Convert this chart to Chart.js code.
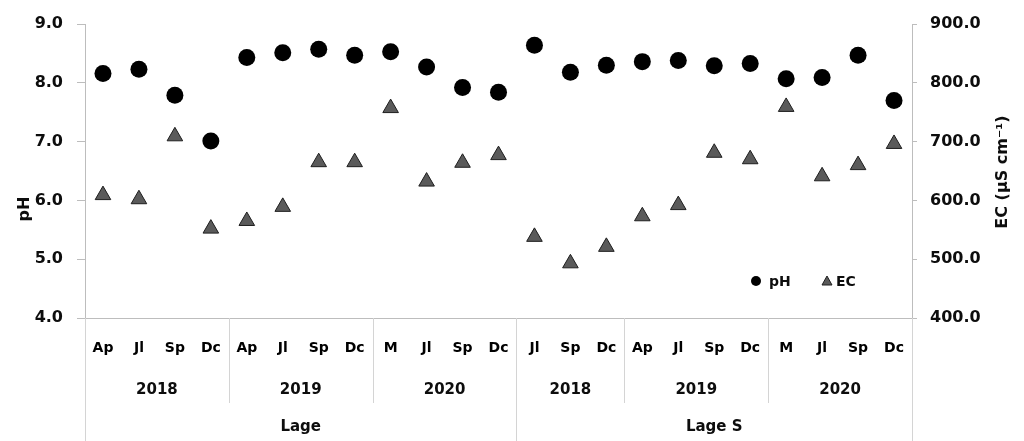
<!DOCTYPE html>
<html>
<head>
<meta charset="utf-8">
<script src="https://cdn.jsdelivr.net/npm/chart.js@4.4.1/dist/chart.umd.min.js"></script>
<style>
  html, body { margin: 0; padding: 0; background: #fff; }
  #wrap { width: 1024px; height: 441px; }
</style>
</head>
<body>
<div id="wrap"><canvas id="c" width="1024" height="441"></canvas></div>
<script>
// Sampling months (23 campaigns across two sites)
const months = ['Ap','Jl','Sp','Dc','Ap','Jl','Sp','Dc','M','Jl','Sp','Dc',
                'Jl','Sp','Dc','Ap','Jl','Sp','Dc','M','Jl','Sp','Dc'];
// Year groups under the month labels, with how many months each spans
const yearLabels = ['2018','2019','2020','2018','2019','2020'];
const yearSpans  = [4, 4, 4, 3, 4, 4];
// Site groups, with how many months each spans
const siteLabels = ['Lage','Lage S'];
const siteSpans  = [12, 11];

// pH (left axis)
const phValues = [8.16, 8.23, 7.79, 7.01, 8.43, 8.51, 8.57, 8.47, 8.53, 8.27, 7.92, 7.84,
                  8.64, 8.18, 8.30, 8.36, 8.38, 8.29, 8.33, 8.07, 8.09, 8.47, 7.70];
// Electrical conductivity, µS cm-1 (right axis)
const ecValues = [609, 602, 709, 552, 565, 589, 665, 665, 757, 632, 664, 677,
                  538, 493, 521, 573, 592, 681, 670, 759, 641, 660, 696];

// Axis ranges
const phRange = [4, 9];
const ecRange = [400, 900];

const FONT = '"DejaVu Sans", sans-serif';
const TXT = '#0d0d0d';
const AXIS = '#bdbdbd';
const SEP = '#d4d4d4';

const groupsPlugin = {
  id: 'groups',
  afterDraw(chart) {
    const ctx = chart.ctx;
    const x = chart.scales.x;
    const area = chart.chartArea;
    const H = chart.height;
    const edge = i => {
      if (i <= 0) return area.left;
      if (i >= months.length) return area.right;
      return (x.getPixelForValue(i - 1) + x.getPixelForValue(i)) / 2;
    };
    ctx.save();
    ctx.strokeStyle = SEP;
    ctx.lineWidth = 1;
    // year separators (short) and labels
    let start = 0;
    ctx.font = 'bold 15px ' + FONT;
    ctx.fillStyle = TXT;
    ctx.textAlign = 'center';
    ctx.textBaseline = 'middle';
    yearSpans.forEach((n, k) => {
      const a = edge(start), b = edge(start + n);
      ctx.beginPath();
      ctx.moveTo(Math.round(a) + 0.5, area.bottom);
      ctx.lineTo(Math.round(a) + 0.5, 403);
      ctx.stroke();
      ctx.fillText(yearLabels[k], (a + b) / 2, 390);
      start += n;
    });
    // site separators (full height) and labels
    start = 0;
    siteSpans.forEach((n, k) => {
      const a = edge(start), b = edge(start + n);
      [a, b].forEach(px => {
        ctx.beginPath();
        ctx.moveTo(Math.round(px) + 0.5, area.bottom);
        ctx.lineTo(Math.round(px) + 0.5, H);
        ctx.stroke();
      });
      ctx.fillText(siteLabels[k], (a + b) / 2, 427);
      start += n;
    });

    // axis titles
    ctx.font = 'bold 16px ' + FONT;
    ctx.save();
    ctx.translate(25, 209);
    ctx.rotate(-Math.PI / 2);
    ctx.fillText('pH', 0, 0);
    ctx.restore();
    ctx.save();
    ctx.translate(1003, 172);
    ctx.rotate(-Math.PI / 2);
    ctx.fillText('EC (µS cm\u207B\u00B9)', 0, 0);
    ctx.restore();

    // legend
    const ds = chart.data.datasets;
    ctx.font = 'bold 14px ' + FONT;
    ctx.textAlign = 'left';
    ctx.fillStyle = ds[0].backgroundColor;
    ctx.beginPath();
    ctx.arc(756, 281, 5, 0, Math.PI * 2);
    ctx.fill();
    ctx.fillStyle = TXT;
    ctx.fillText('pH', 769, 282);
    ctx.fillStyle = ds[1].backgroundColor;
    ctx.strokeStyle = ds[1].borderColor;
    ctx.beginPath();
    ctx.moveTo(827, 276);
    ctx.lineTo(832, 285);
    ctx.lineTo(822, 285);
    ctx.closePath();
    ctx.fill();
    ctx.stroke();
    ctx.fillStyle = TXT;
    ctx.fillText('EC', 836, 282);
    ctx.restore();
  }
};

new Chart(document.getElementById('c'), {
  type: 'line',
  data: {
    labels: months,
    datasets: [
      {
        label: 'pH',
        data: phValues,
        yAxisID: 'y',
        showLine: false,
        pointStyle: 'circle',
        pointRadius: 8.5,
        pointHoverRadius: 8.5,
        backgroundColor: '#000',
        borderColor: '#000',
        pointBorderWidth: 0
      },
      {
        label: 'EC',
        data: ecValues,
        yAxisID: 'y2',
        showLine: false,
        pointStyle: 'triangle',
        pointRadius: 9,
        pointHoverRadius: 9,
        backgroundColor: '#5a5a5a',
        borderColor: '#1e1e1e',
        pointBorderWidth: 1
      }
    ]
  },
  options: {
    responsive: false,
    animation: false,
    devicePixelRatio: 1,
    layout: { padding: { top: 24, left: 0, right: 0, bottom: 0 } },
    plugins: { legend: { display: false }, tooltip: { enabled: false } },
    scales: {
      x: {
        type: 'category',
        offset: true,
        grid: { display: false, drawTicks: false },
        border: { display: true, color: AXIS },
        ticks: {
          autoSkip: false, maxRotation: 0, padding: 22,
          color: '#000', font: { family: FONT, size: 14, weight: 'bold' }
        },
        afterFit(s) { s.height = 123; }
      },
      y: {
        position: 'left',
        min: phRange[0], max: phRange[1],
        grid: { drawOnChartArea: false, drawTicks: true, tickLength: 8, color: AXIS },
        border: { color: AXIS },
        ticks: {
          stepSize: 1, padding: 14, color: TXT,
          font: { family: FONT, size: 16, weight: 'bold' },
          callback: v => Number(v).toFixed(1)
        },
        afterFit(s) { s.width = 85; }
      },
      y2: {
        position: 'right',
        min: ecRange[0], max: ecRange[1],
        grid: { drawOnChartArea: false, drawTicks: true, tickLength: 5, color: AXIS },
        border: { color: AXIS },
        ticks: {
          stepSize: 100, padding: 13, color: TXT,
          font: { family: FONT, size: 16, weight: 'bold' },
          callback: v => Number(v).toFixed(1)
        },
        afterFit(s) { s.width = 112; }
      }
    }
  },
  plugins: [groupsPlugin]
});
</script>
</body>
</html>
